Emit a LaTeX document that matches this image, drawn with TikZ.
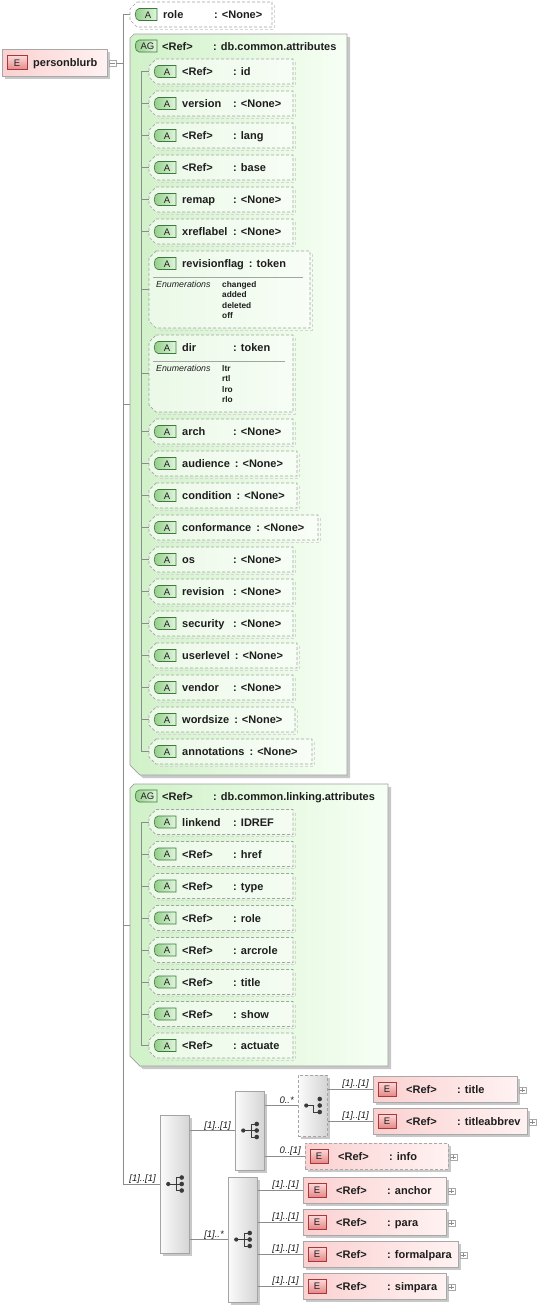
\documentclass[tikz,border=0pt]{standalone}
\usepackage{fontspec}
\setmainfont{Liberation Sans}
\usetikzlibrary{calc,shadows}

\definecolor{lineC}{HTML}{8C8C8C}
\definecolor{txt}{HTML}{1E1E1E}
\definecolor{attrB}{HTML}{A4A4A4}
\definecolor{tabG1}{HTML}{E2F6DE}
\definecolor{tabG2}{HTML}{8FCC86}
\definecolor{tabGB}{HTML}{3C7A3C}
\definecolor{agL}{HTML}{D0F1C8}
\definecolor{agR}{HTML}{F7FFF5}
\definecolor{agB}{HTML}{A0A0A0}
\definecolor{elL}{HTML}{FBD0D0}
\definecolor{elR}{HTML}{FFF2F2}
\definecolor{elB}{HTML}{A8A8A8}
\definecolor{tabR1}{HTML}{FCDADA}
\definecolor{tabR2}{HTML}{E68888}
\definecolor{tabRB}{HTML}{A83838}
\definecolor{seqL}{HTML}{FBFBFB}
\definecolor{seqR}{HTML}{D4D4D4}
\definecolor{seqB}{HTML}{A4A4A4}
\definecolor{shd}{HTML}{C8C8C8}
\definecolor{shdL}{HTML}{D6D6D6}
\definecolor{iconc}{HTML}{3A3A3A}

\newcommand\nmcol[1]{\setbox0\hbox{#1}\ifdim\wd0<46pt\hbox to 51pt{#1\hfil}\else\hbox to \dimexpr\wd0+5pt\relax{#1\hfil}\fi}

\tikzset{
  conn/.style={draw=lineC, line width=0.7pt},
  attrline/.style={draw=attrB, line width=0.7pt, dash pattern=on 3pt off 2pt, fill=white, fill opacity=0.55},
  shadowline/.style={draw=shdL, line width=1pt, dash pattern=on 3pt off 2pt},
  dashedbox/.style={dash pattern=on 3pt off 2pt},
  boxnode/.style={inner sep=0pt, outer sep=0pt, rectangle},
  atab/.style={draw=tabGB, line width=0.6pt, left color=tabG2, right color=tabG1},
  etab/.style={draw=tabRB, line width=0.6pt, top color=tabR1, bottom color=tabR2},
  agfill/.style={draw=agB, line width=0.7pt, left color=agL, right color=agR},
  elnode/.style={boxnode, draw=elB, line width=0.7pt, left color=elL, right color=elR,
     drop shadow={shadow xshift=2.5pt, shadow yshift=-2.5pt, fill=shd, opacity=1}},
  seqnode/.style={boxnode, draw=seqB, line width=0.7pt, left color=seqL, right color=seqR,
     drop shadow={shadow xshift=2.5pt, shadow yshift=-2.5pt, fill=shd, opacity=1}},
  plusnode/.style={boxnode, draw=elB, fill=white, line width=0.5pt, minimum size=6.5pt},
  markline/.style={draw=lineC, line width=0.6pt},
  iconline/.style={draw=iconc, line width=0.8pt},
  mult/.style={font=\fontsize{9.5}{10}\selectfont\itshape, text=txt, inner sep=0pt},
  lbl/.style={font=\fontsize{11}{13}\selectfont\bfseries, text=txt, inner sep=0pt, anchor=base west},
  tabtxt/.style={font=\fontsize{9.5}{10}\selectfont, text=txt, inner sep=0pt},
  enumlbl/.style={font=\fontsize{8.8}{10}\selectfont\itshape, text=txt, inner sep=0pt, anchor=base west},
  enumval/.style={font=\fontsize{8.3}{10}\selectfont\bfseries, text=txt, inner sep=0pt, anchor=base west},
  sepline/.style={draw=attrB, line width=0.6pt},
}

% attribute box: name, tip x, top y, right x, height, label, value
\newcommand\attrg[7]{%
 \node[boxnode, anchor=north west, minimum width={#4pt-#2pt}, minimum height=#5pt] (#1) at (#2,#3) {};
 \draw[shadowline] ($(#1.north east)+(2,3)$) -- ($(#1.south east)+(2,2)$) -- ($(#1.south west)+(9,2)$);
 \draw[attrline] ($(#1.north west)+(7,0)$) -- (#1.north east) -- (#1.south east) -- ($(#1.south west)+(7,0)$) -- ($(#1.south west)+(0,-7)$) -- ($(#1.north west)+(0,7)$) -- cycle;
 \coordinate (#1-h) at ($(#1.north west)+(0,12.5)$);
 \draw[atab] ($(#1-h)+(9,-6)$) -- ($(#1-h)+(27,-6)$) -- ($(#1-h)+(27,6)$) -- ($(#1-h)+(9,6)$) .. controls ($(#1-h)+(4,6)$) and ($(#1-h)+(4,-6)$) .. ($(#1-h)+(9,-6)$) -- cycle;
 \node[tabtxt] at ($(#1-h)+(18,0.5)$) {A};
 \node[lbl] at ($(#1-h)+(33,4)$) {\nmcol{#6}: #7};
}
% attribute group: name, x, top, right, bottom, value
\newcommand\agbox[6]{%
 \node[boxnode, anchor=north west, minimum width={#4pt-#2pt}, minimum height={#5pt-#3pt}] (#1) at (#2,#3) {};
 \fill[shd] ($(#1.north west)+(7,3)$) -- ($(#1.north east)+(3,3)$) -- ($(#1.south east)+(3,3)$) -- ($(#1.south west)+(13,3)$) -- ($(#1.south west)+(3,-7)$) -- cycle;
 \path[agfill] ($(#1.north west)+(4,0)$) -- (#1.north east) -- (#1.south east) -- ($(#1.south west)+(10,0)$) -- ($(#1.south west)+(0,-10)$) -- ($(#1.north west)+(0,4)$) -- cycle;
 \coordinate (#1-h) at ($(#1.north west)+(0,12)$);
 \draw[atab] ($(#1-h)+(9,-6)$) -- ($(#1-h)+(27,-6)$) -- ($(#1-h)+(27,6)$) -- ($(#1-h)+(9,6)$) .. controls ($(#1-h)+(4,6)$) and ($(#1-h)+(4,-6)$) .. ($(#1-h)+(9,-6)$) -- cycle;
 \node[tabtxt] at ($(#1-h)+(17.5,0.5)$) {AG};
 \node[lbl] at ($(#1-h)+(32,4)$) {\nmcol{<Ref>}: #6};
}
% element: name, x, center y, right, label, value, extra style
\newcommand\elem[7]{%
 \node[elnode, #7, anchor=west, minimum width={#4pt-#2pt}, minimum height=26pt] (#1) at (#2,#3) {};
 \draw[etab] ($(#1.west)+(5,-7)$) rectangle ($(#1.west)+(23,7)$);
 \node[tabtxt] at ($(#1.west)+(14,0.5)$) {E};
 \node[lbl] at ($(#1.west)+(33,4)$) {\nmcol{#5}: #6};
 \node[plusnode] (#1-plus) at ($(#1.east)+(5.5,1)$) {};
 \draw[markline] ($(#1-plus.center)+(-2.2,0)$) -- ($(#1-plus.center)+(2.2,0)$) ($(#1-plus.center)+(0,-2.2)$) -- ($(#1-plus.center)+(0,2.2)$);
}
% compositor: name, x, top, bottom, extra style
\newcommand\seqbox[5]{%
 \node[seqnode, #5, anchor=north west, minimum width=29.5pt, minimum height={#4pt-#3pt}] (#1) at (#2,#3) {};
}
\newcommand\seqicon[1]{%
 \draw[iconline] ($(#1)+(-6.5,0)$) -- ($(#1)+(7,0)$) ($(#1)+(7,-6.5)$) -- ($(#1)+(2,-6.5)$) -- ($(#1)+(2,6.5)$) -- ($(#1)+(7,6.5)$);
 \fill[iconc] ($(#1)+(-6.5,0)$) circle[radius=2.1pt] ($(#1)+(7,-6.5)$) circle[radius=2.3pt] ($(#1)+(7,0)$) circle[radius=2.3pt] ($(#1)+(7,6.5)$) circle[radius=2.3pt];
}
\newcommand\choiceicon[1]{%
 \draw[iconline] ($(#1)+(-6.5,0)$) -- ($(#1)+(1,0)$) -- ($(#1)+(1,6.5)$) -- ($(#1)+(7,6.5)$);
 \fill[iconc] ($(#1)+(-6.5,0)$) circle[radius=2.1pt] ($(#1)+(7,-6.5)$) circle[radius=2.3pt] ($(#1)+(7,0)$) circle[radius=2.3pt] ($(#1)+(7,6.5)$) circle[radius=2.3pt];
}
\newcommand\mult[2]{\node[mult, anchor=base east] at ($(#1.west)+(-4,-2.5)$) {#2};}

\begin{document}
\begin{tikzpicture}[x=1pt,y=-1pt]
\useasboundingbox (0,0) rectangle (538,1307);
\fill[white] (0,0) rectangle (538,1307);

% attribute groups
\agbox{ag1}{130}{34}{347}{775}{db.common.attributes}
\agbox{ag2}{130}{784}{388}{1066}{db.common.linking.attributes}

% root element
\node[elnode, anchor=north west, minimum width=105pt, minimum height=27pt] (pb) at (2,49) {};
\draw[etab] ($(pb.west)+(5,-7)$) rectangle ($(pb.west)+(25,7)$);
\node[tabtxt] at ($(pb.west)+(15,0.5)$) {E};
\node[lbl] at ($(pb.west)+(31,4)$) {personblurb};
\node[plusnode] (pbm) at (112.5,63) {};
\draw[markline] ($(pbm.center)+(-2.2,0)$) -- ($(pbm.center)+(2.2,0)$);

% role
\attrg{r-role}{130}{2}{272}{25}{role}{<None>}

% db.common.attributes
\attrg{a-id}{149}{59}{293}{25}{<Ref>}{id}
\attrg{a-version}{149}{91}{293}{25}{version}{<None>}
\attrg{a-lang}{149}{123}{293}{25}{<Ref>}{lang}
\attrg{a-base}{149}{155}{293}{25}{<Ref>}{base}
\attrg{a-remap}{149}{187}{293}{25}{remap}{<None>}
\attrg{a-xreflabel}{149}{219}{293}{25}{xreflabel}{<None>}
\attrg{a-rf}{149}{251}{310}{77}{revisionflag}{token}
\attrg{a-dir}{149}{335}{293}{77}{dir}{token}
\attrg{a-arch}{149}{419}{293}{25}{arch}{<None>}
\attrg{a-audience}{149}{451}{297}{25}{audience}{<None>}
\attrg{a-condition}{149}{483}{297}{25}{condition}{<None>}
\attrg{a-conformance}{149}{515}{318}{25}{conformance}{<None>}
\attrg{a-os}{149}{547}{293}{25}{os}{<None>}
\attrg{a-revision}{149}{579}{293}{25}{revision}{<None>}
\attrg{a-security}{149}{611}{293}{25}{security}{<None>}
\attrg{a-userlevel}{149}{643}{297}{25}{userlevel}{<None>}
\attrg{a-vendor}{149}{675}{293}{25}{vendor}{<None>}
\attrg{a-wordsize}{149}{707}{295}{25}{wordsize}{<None>}
\attrg{a-annotations}{149}{739}{312}{25}{annotations}{<None>}

% enumerations
\draw[sepline] ($(a-rf.north west)+(4,26)$) -- ($(a-rf.north east)+(-7,26)$);
\node[enumlbl] at ($(a-rf.north west)+(7,36)$) {Enumerations};
\node[enumval] at ($(a-rf.north west)+(73,36)$) {changed};
\node[enumval] at ($(a-rf.north west)+(73,46.5)$) {added};
\node[enumval] at ($(a-rf.north west)+(73,57)$) {deleted};
\node[enumval] at ($(a-rf.north west)+(73,67.5)$) {off};
\draw[sepline] ($(a-dir.north west)+(4,26)$) -- ($(a-dir.north east)+(-8,26)$);
\node[enumlbl] at ($(a-dir.north west)+(7,36)$) {Enumerations};
\node[enumval] at ($(a-dir.north west)+(73,36)$) {ltr};
\node[enumval] at ($(a-dir.north west)+(73,46.5)$) {rtl};
\node[enumval] at ($(a-dir.north west)+(73,57)$) {lro};
\node[enumval] at ($(a-dir.north west)+(73,67.5)$) {rlo};

% db.common.linking.attributes
\attrg{l-linkend}{149}{809.5}{293}{25}{linkend}{IDREF}
\attrg{l-href}{149}{841.5}{293}{25}{<Ref>}{href}
\attrg{l-type}{149}{873.5}{293}{25}{<Ref>}{type}
\attrg{l-role}{149}{905.5}{293}{25}{<Ref>}{role}
\attrg{l-arcrole}{149}{937.5}{293}{25}{<Ref>}{arcrole}
\attrg{l-title}{149}{969.5}{293}{25}{<Ref>}{title}
\attrg{l-show}{149}{1001.5}{293}{25}{<Ref>}{show}
\attrg{l-actuate}{149}{1033}{293}{25}{<Ref>}{actuate}

% inner buses
\coordinate (bus1) at (141,0);
\draw[conn] (a-id.west) -| (bus1 |- a-annotations.west) -- (a-annotations.west);
\foreach \n in {version,lang,base,remap,xreflabel,rf,dir,arch,audience,condition,conformance,os,revision,security,userlevel,vendor,wordsize}
  \draw[conn] (a-\n.west) -- (a-\n.west -| bus1);
\draw[conn] (l-linkend.west) -| (bus1 |- l-actuate.west) -- (l-actuate.west);
\foreach \n in {href,type,role,arcrole,title,show}
  \draw[conn] (l-\n.west) -- (l-\n.west -| bus1);

% compositors
\seqbox{mseq}{160}{1115}{1253}{}
\seqbox{useq}{235}{1091}{1170}{}
\seqbox{chc}{298}{1075}{1136}{dashedbox}
\seqbox{lseq}{228}{1177}{1302}{}
\seqicon{mseq.center}
\seqicon{useq.center}
\choiceicon{chc.center}
\seqicon{lseq.center}

% elements
\elem{e-title}{373}{1089}{517}{<Ref>}{title}{}
\elem{e-tabbr}{373}{1121}{527}{<Ref>}{titleabbrev}{}
\elem{e-info}{305}{1156}{448}{<Ref>}{info}{dashedbox}
\elem{e-anchor}{303}{1190}{446}{<Ref>}{anchor}{}
\elem{e-para}{303}{1222}{446}{<Ref>}{para}{}
\elem{e-fpara}{303}{1254}{458}{<Ref>}{formalpara}{}
\elem{e-simpara}{303}{1286}{446}{<Ref>}{simpara}{}

% trunk
\coordinate (trunk) at (123,1184);
\draw[conn] (r-role.west) -| (trunk) -- (mseq.west);
\draw[conn] (pbm.east) -- (pbm.east -| trunk);
\draw[conn] (ag1.west) -- (ag1.west -| trunk);
\draw[conn] (ag2.west) -- (ag2.west -| trunk);

% compositor connectors
\draw[conn] (useq.west) -- (useq.west -| mseq.east);
\draw[conn] (lseq.west) -- (lseq.west -| mseq.east);
\draw[conn] (chc.west) -- (chc.west -| useq.east);
\draw[conn] (e-info.west) -- (e-info.west -| useq.east);
\draw[conn] (e-title.west) -- (e-title.west -| chc.east);
\draw[conn] (e-tabbr.west) -- (e-tabbr.west -| chc.east);
\foreach \n in {anchor,para,fpara,simpara}
  \draw[conn] (e-\n.west) -- (e-\n.west -| lseq.east);

% multiplicities
\mult{mseq}{[1]..[1]}
\mult{useq}{[1]..[1]}
\mult{chc}{0..*}
\mult{e-title}{[1]..[1]}
\mult{e-tabbr}{[1]..[1]}
\mult{e-info}{0..[1]}
\mult{lseq}{[1]..*}
\mult{e-anchor}{[1]..[1]}
\mult{e-para}{[1]..[1]}
\mult{e-fpara}{[1]..[1]}
\mult{e-simpara}{[1]..[1]}
\end{tikzpicture}
\end{document}
